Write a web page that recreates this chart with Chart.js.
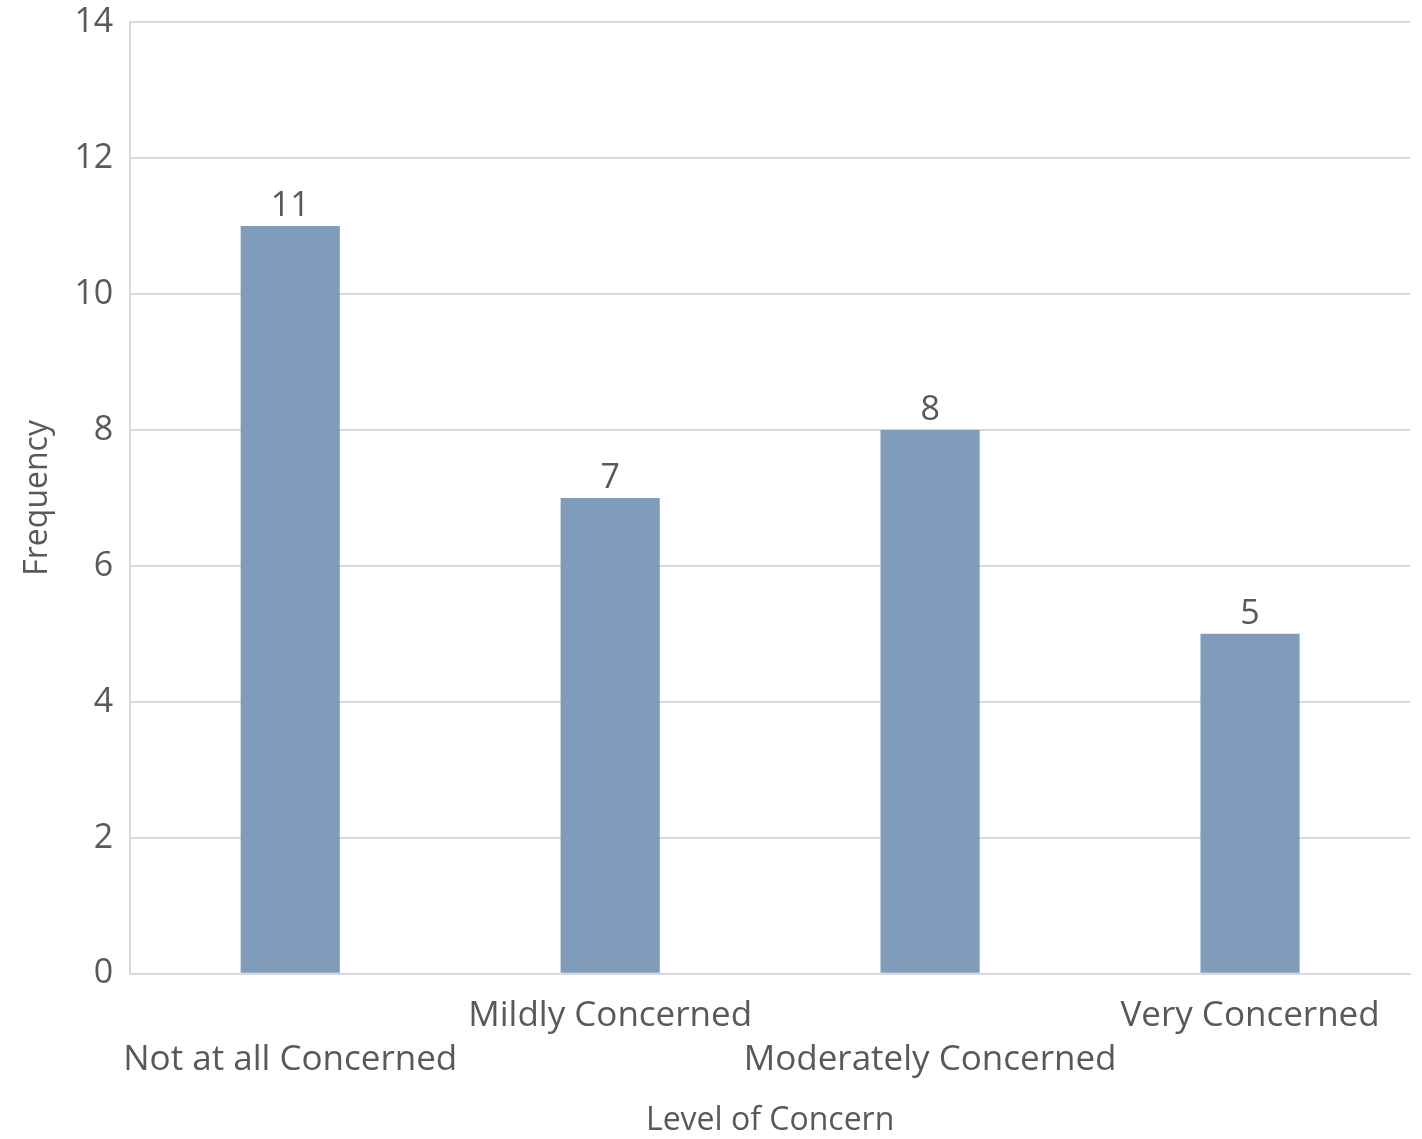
<!DOCTYPE html>
<html>
<head>
<meta charset="utf-8">
<title>Level of Concern</title>
<script src="https://cdn.jsdelivr.net/npm/chart.js@4"></script>
<style>
    html, body { margin: 0; padding: 0; background: #ffffff; }
    #wrap { width: 1422px; height: 1139px; position: relative; }
</style>
</head>
<body>
<div id="wrap"><canvas id="concernChart"></canvas></div>
<script>
const categories = ["Not at all Concerned", "Mildly Concerned", "Moderately Concerned", "Very Concerned"];
const frequency = [11, 7, 8, 5];
const yTicks = [0, 2, 4, 6, 8, 10, 12, 14];

const TEXT = "#595959";
const FONT = "'Open Sans', 'Noto Sans', sans-serif";

// value labels above each bar
const barValues = {
    id: "barValues",
    afterDatasetsDraw(chart) {
        const ctx = chart.ctx;
        const meta = chart.getDatasetMeta(0);
        ctx.save();
        ctx.font = "34px " + FONT;
        ctx.fillStyle = TEXT;
        ctx.textAlign = "center";
        ctx.textBaseline = "bottom";
        meta.data.forEach((bar, i) => {
            ctx.fillText(String(frequency[i]), bar.x, bar.y - 3);
        });
        ctx.restore();
    }
};

new Chart(document.getElementById("concernChart"), {
    type: "bar",
    data: {
        labels: categories,
        datasets: [{
            label: "Frequency",
            data: frequency,
            backgroundColor: "#7f9cba",
            categoryPercentage: 1,
            barPercentage: 0.31
        }]
    },
    options: {
        responsive: true,
        maintainAspectRatio: false,
        animation: false,
        layout: { padding: { top: 0, right: 12, left: 19, bottom: -1 } },
        plugins: {
            legend: { display: false },
            tooltip: { enabled: false }
        },
        scales: {
            x: {
                grid: { display: false },
                border: { color: "#d9d9d9", width: 2 },
                ticks: {
                    autoSkip: false,
                    maxRotation: 0,
                    minRotation: 0,
                    padding: 13,
                    color: TEXT,
                    font: { family: FONT, size: 35, lineHeight: 1.24 },
                    // stagger the long names over two rows
                    callback: (val, i) => i % 2 === 0 ? ["", categories[i]] : [categories[i], ""]
                },
                title: {
                    display: true,
                    text: "Level of Concern",
                    color: TEXT,
                    font: { family: FONT, size: 32 },
                    padding: { top: 7, bottom: 0 }
                }
            },
            y: {
                min: 0,
                max: 14,
                afterBuildTicks: axis => { axis.ticks = yTicks.map(v => ({ value: v })); },
                // room above the plot just for the top tick label
                afterFit: axis => { axis.paddingTop = 22; },
                grid: { color: "#d9d9d9", lineWidth: 2, drawTicks: false },
                border: { color: "#d9d9d9", width: 2 },
                ticks: {
                    padding: 17,
                    color: TEXT,
                    font: { family: FONT, size: 34 }
                },
                title: {
                    display: true,
                    text: "Frequency",
                    color: TEXT,
                    font: { family: FONT, size: 32 },
                    padding: { top: 0, bottom: 0 }
                }
            }
        }
    },
    plugins: [barValues]
});
</script>
</body>
</html>
